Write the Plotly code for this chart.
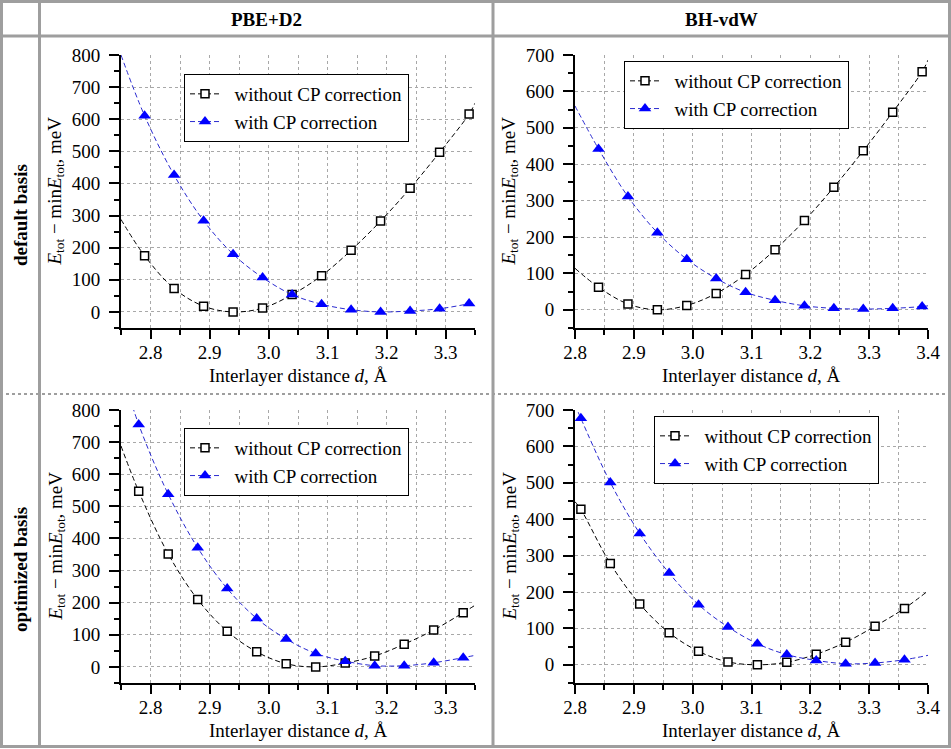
import plotly.graph_objects as go

W, H = 951, 749
FONT = "Liberation Serif, Times New Roman, serif"

# ─── data (meV) ───────────────────────────────────────────────────────────────
# PBE+D2, default basis
D_PBE_DEF = [2.79, 2.84, 2.89, 2.94, 2.99, 3.04, 3.09, 3.14, 3.19, 3.24, 3.29, 3.34]
NOCP_PBE_DEF = [175, 73, 18, 0, 12, 54, 113, 192, 283, 385, 497, 616]
CP_PBE_DEF = [611, 426, 284, 180, 107, 54, 24, 7, 0, 3, 10, 26]

# BH-vdW, default basis
D_BH_DEF = [2.84, 2.89, 2.94, 2.99, 3.04, 3.09, 3.14, 3.19, 3.24, 3.29, 3.34, 3.39]
NOCP_BH_DEF = [62, 16, 0, 12, 45, 97, 165, 245, 337, 437, 543, 654]
CP_BH_DEF = [442, 311, 212, 139, 86, 48, 26, 11, 4, 2, 4, 9]

# PBE+D2, optimized basis
D_PBE_OPT = [2.78, 2.83, 2.88, 2.93, 2.98, 3.03, 3.08, 3.13, 3.18, 3.23, 3.28, 3.33]
NOCP_PBE_OPT = [547, 352, 210, 111, 47, 10, 0, 12, 34, 71, 115, 169]
CP_PBE_OPT = [755, 538, 371, 244, 151, 87, 42, 18, 4, 4, 13, 29]

# BH-vdW, optimized basis
D_BH_OPT = [2.81, 2.86, 2.91, 2.96, 3.01, 3.06, 3.11, 3.16, 3.21, 3.26, 3.31, 3.36]
NOCP_BH_OPT = [427, 278, 167, 88, 37, 8, 0, 7, 29, 62, 106, 155]
CP_BH_OPT = [677, 501, 361, 252, 165, 104, 58, 28, 12, 3, 5, 14]

# dashed fit curves: values where they meet the left / right plot edges
EDGE_PBE = [2.75, 3.35]
EDGE_BH = [2.8, 3.4]
NOCP_PBE_DEF_EDGE = [288, 650]
CP_PBE_DEF_EDGE = [800, 31]
NOCP_BH_DEF_EDGE = [114, 686]
CP_BH_DEF_EDGE = [560, 11]
NOCP_PBE_OPT_EDGE = [688, 192]
CP_PBE_OPT_EDGE = [930, 36]
NOCP_BH_OPT_EDGE = [448, 203]
CP_BH_OPT_EDGE = [715, 26]

COLUMNS = ["PBE+D2", "BH-vdW"]
ROWS = ["default basis", "optimized basis"]
SERIES = ["without CP correction", "with CP correction"]
XTITLE = "Interlayer distance <i>d</i>, Å"
YTITLE = "<i>E</i><sub>tot</sub> − min<i>E</i><sub>tot</sub>, meV"


def px(x):
    return x / W


def py(y):
    return 1 - y / H


# (axis suffix, x data, no-CP, CP, edge x, no-CP edge, CP edge, x range, y max,
#  plot box in pixels: left, right, top, bottom, legend box left/top)
panels = [
    ("", D_PBE_DEF, NOCP_PBE_DEF, CP_PBE_DEF, EDGE_PBE, NOCP_PBE_DEF_EDGE, CP_PBE_DEF_EDGE,
     [2.75, 3.35], 800, (121, 475, 55, 328), (184, 74)),
    ("2", D_BH_DEF, NOCP_BH_DEF, CP_BH_DEF, EDGE_BH, NOCP_BH_DEF_EDGE, CP_BH_DEF_EDGE,
     [2.8, 3.4], 700, (575, 928, 55, 328), (624, 61)),
    ("3", D_PBE_OPT, NOCP_PBE_OPT, CP_PBE_OPT, EDGE_PBE, NOCP_PBE_OPT_EDGE, CP_PBE_OPT_EDGE,
     [2.75, 3.35], 800, (121, 475, 410, 683), (184, 428)),
    ("4", D_BH_OPT, NOCP_BH_OPT, CP_BH_OPT, EDGE_BH, NOCP_BH_OPT_EDGE, CP_BH_OPT_EDGE,
     [2.8, 3.4], 700, (575, 928, 410, 683), (654, 416)),
]

BLACK_LINE = dict(color="black", width=1, dash="5px,3px")
BLUE_LINE = dict(color="#2a2ad0", width=1, dash="5px,3px")
SQ = dict(symbol="square", size=8, color="white", line=dict(color="black", width=1.5))
TRI = dict(symbol="triangle-up", size=11, color="#0000ff", line=dict(width=0))
TXT = dict(family=FONT, size=19, color="black")

fig = go.Figure()
layout = {}
annotations = []

for i, (sfx, d, nocp, cp, ex, nocp_e, cp_e, xr, ymax, box, leg) in enumerate(panels):
    xa, ya = "x" + sfx, "y" + sfx
    lg = "legend" + sfx
    curve_x = [ex[0]] + d + [ex[1]]
    for ys, edge, line, mk, name in [(nocp, nocp_e, BLACK_LINE, SQ, SERIES[0]),
                                     (cp, cp_e, BLUE_LINE, TRI, SERIES[1])]:
        fig.add_trace(go.Scatter(
            x=curve_x, y=[edge[0]] + ys + [edge[1]], mode="lines",
            line=dict(line, shape="spline"), showlegend=False,
            xaxis=xa, yaxis=ya, hoverinfo="skip"))
        fig.add_trace(go.Scatter(
            x=d, y=ys, mode="markers", marker=mk, showlegend=False,
            xaxis=xa, yaxis=ya, cliponaxis=False))
        # legend entry only
        fig.add_trace(go.Scatter(
            x=[None], y=[None], mode="lines+markers", name="\u00a0\u00a0" + name,
            line=line, marker=mk, legend=lg, xaxis=xa, yaxis=ya))

    l, r, t, b = box
    gridkw = dict(gridcolor="#a8a8a8", gridwidth=1, griddash="dot")
    layout["xaxis" + sfx] = dict(
        domain=[px(l), px(r)], anchor=ya, range=xr, dtick=0.1, tickformat=".1f",
        showline=True, linecolor="black", linewidth=2, ticks="outside",
        ticklen=9, tickwidth=2, tickcolor="black", zeroline=False, automargin=False,
        minor=dict(dtick=0.05, ticklen=5, tickwidth=2, tickcolor="black",
                   showgrid=True, **gridkw),
        ticklabelstandoff=-3, tickfont=TXT, **gridkw)
    layout["yaxis" + sfx] = dict(
        domain=[py(b), py(t)], anchor=xa, range=[-50, ymax], dtick=100,
        showline=True, linecolor="black", linewidth=2, ticks="outside",
        ticklen=10, tickwidth=2, tickcolor="black", zeroline=False, automargin=False,
        minor=dict(dtick=50, ticklen=5, tickwidth=2, tickcolor="black", showgrid=False),
        ticklabelstandoff=5, tickfont=TXT, **gridkw)
    layout[lg] = dict(
        x=px(leg[0]), y=py(leg[1]), xanchor="left", yanchor="top",
        bgcolor="white", bordercolor="black", borderwidth=1,
        font=TXT, tracegroupgap=0, itemwidth=30)

    # axis titles placed where the reference has them
    annotations.append(dict(text=XTITLE, x=px((l + r) / 2), y=py(b + 47)))
    annotations.append(dict(text=YTITLE, x=px(l - 65), y=py((t + b) / 2), textangle=-90))

# ─── table frame ──────────────────────────────────────────────────────────────
GRAY = "#9e9e9e"
shapes = [
    dict(type="rect", x0=px(1.5), x1=px(949.5), y0=py(1.5), y1=py(746.5),
         line=dict(color=GRAY, width=3)),
    dict(type="line", x0=px(39.5), x1=px(39.5), y0=py(1), y1=py(747),
         line=dict(color=GRAY, width=3)),
    dict(type="line", x0=px(493), x1=px(493), y0=py(1), y1=py(747),
         line=dict(color=GRAY, width=3)),
    dict(type="line", x0=px(0), x1=px(951), y0=py(36), y1=py(36),
         line=dict(color=GRAY, width=3)),
    dict(type="line", x0=px(0), x1=px(951), y0=py(394), y1=py(394),
         line=dict(color=GRAY, width=2, dash="dot")),
]
for sh in shapes:
    sh.update(xref="paper", yref="paper", layer="above")

annotations += [
    dict(text="<b>%s</b>" % COLUMNS[0], x=px(266), y=py(20)),
    dict(text="<b>%s</b>" % COLUMNS[1], x=px(721), y=py(20)),
    dict(text="<b>%s</b>" % ROWS[0], x=px(20), y=py(215), textangle=-90),
    dict(text="<b>%s</b>" % ROWS[1], x=px(20), y=py(570), textangle=-90),
]
for a in annotations:
    a.update(xref="paper", yref="paper", showarrow=False,
             xanchor="center", yanchor="middle", font=TXT)

fig.update_layout(
    width=W, height=H, margin=dict(l=0, r=0, t=0, b=0, autoexpand=False),
    paper_bgcolor="white", plot_bgcolor="white",
    font=TXT, shapes=shapes, annotations=annotations, **layout)

# drop the browser's default body margin so the figure fills the window exactly
fig.write_html("out.html", config={"displayModeBar": False},
               post_script="document.body.style.margin='0';"
                           "document.body.style.overflow='hidden';")
